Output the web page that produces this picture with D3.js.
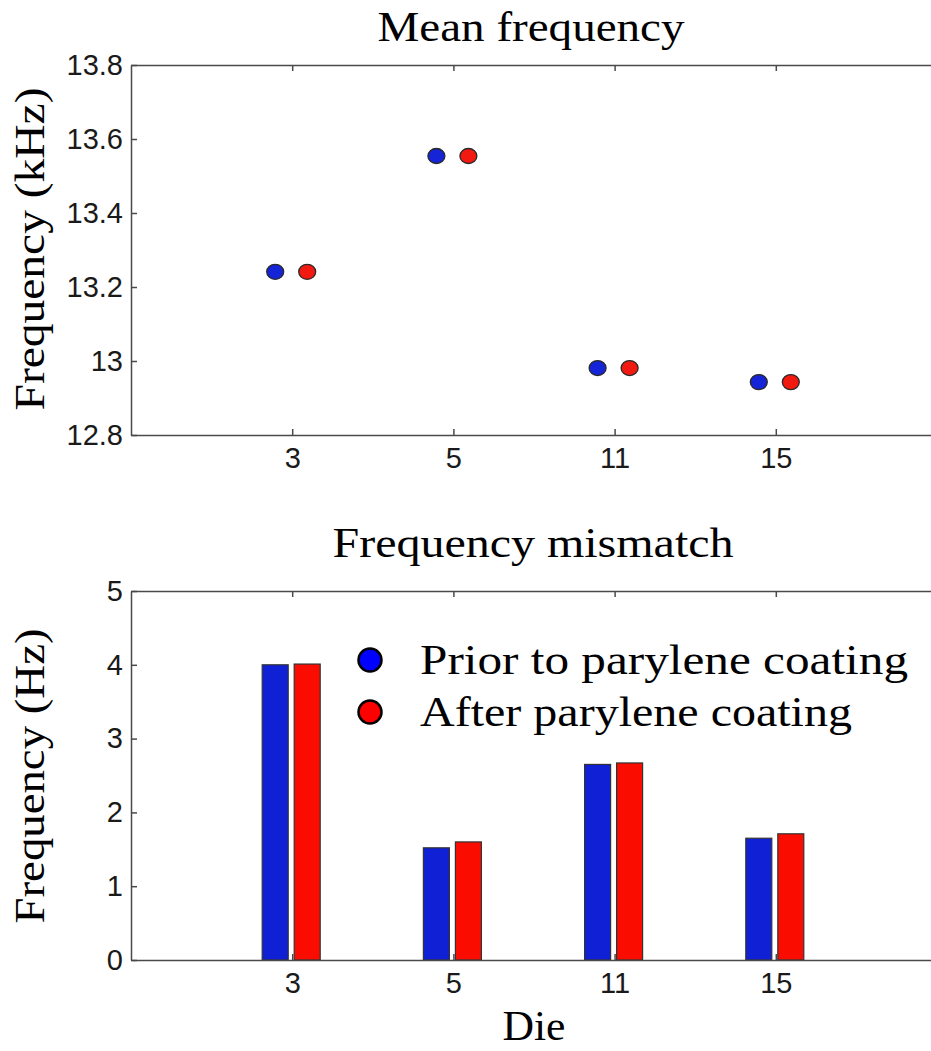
<!DOCTYPE html>
<html>
<head>
<meta charset="utf-8">
<script src="https://cdn.jsdelivr.net/npm/d3@7"></script>
<style>
  html, body { margin: 0; padding: 0; background: #fff; }
  svg { display: block; }
  .tick text { font-family: "Liberation Sans", Arial, sans-serif; font-size: 29px; fill: #1a1a1a; }
  .axis path, .axis line { stroke: #4a4a4a; stroke-width: 1.5; }
  .tex { font-family: "Liberation Serif", "Times New Roman", serif; fill: #000; }
</style>
</head>
<body>
<svg id="chart" width="931" height="1051"></svg>
<script>
'use strict';

// ── Data ─────────────────────────────────────────────────────
const dies          = ['3', '5', '11', '15'];
const meanPrior     = [13.241, 13.554, 12.981, 12.943];   // kHz
const meanAfter     = [13.241, 13.554, 12.981, 12.943];   // kHz
const mismatchPrior = [4.00, 1.52, 2.65, 1.65];           // Hz
const mismatchAfter = [4.01, 1.60, 2.67, 1.71];           // Hz
const meanTicks     = [12.8, 13, 13.2, 13.4, 13.6, 13.8];
const mismatchTicks = [0, 1, 2, 3, 4, 5];
const seriesNames   = ['Prior to parylene coating', 'After parylene coating'];

// ── Layout ───────────────────────────────────────────────────
const X0 = 131, X1 = 937;
const TOP    = { y0: 65,  y1: 435 };
const BOTTOM = { y0: 591, y1: 960 };
const DOT_BLUE = '#1424d6', DOT_RED = '#f21a10';
const BAR_BLUE = '#1020d4', BAR_RED = '#fa0c00';

const svg = d3.select('#chart');

const x = d3.scaleLinear().domain([0, dies.length + 1]).range([X0, X1]);

// ── Axes box helper ──────────────────────────────────────────
function drawBox(y, ticks, fmt, box) {
  const xt = dies.map((d, i) => i + 1);
  const g = svg.append('g').attr('class', 'axis');

  g.append('g').attr('transform', `translate(0,${box.y1})`)
    .call(d3.axisBottom(x).tickValues(xt).tickFormat((d) => dies[d - 1])
      .tickSizeInner(-6).tickSizeOuter(0).tickPadding(12));
  g.append('g').attr('transform', `translate(0,${box.y0})`)
    .call(d3.axisTop(x).tickValues(xt).tickFormat('')
      .tickSizeInner(-6).tickSizeOuter(0));
  g.append('g').attr('transform', `translate(${X0},0)`)
    .call(d3.axisLeft(y).tickValues(ticks).tickFormat(fmt)
      .tickSizeInner(-6).tickSizeOuter(0).tickPadding(8));
  g.append('g').attr('transform', `translate(${X1},0)`)
    .call(d3.axisRight(y).tickValues(ticks).tickFormat('')
      .tickSizeInner(-6).tickSizeOuter(0));
  return g;
}

function texLabel(txt, tx, ty, len, rotate) {
  svg.append('text')
    .attr('class', 'tex')
    .attr('transform', `translate(${tx},${ty})` + (rotate ? ' rotate(-90)' : ''))
    .attr('text-anchor', 'middle')
    .attr('font-size', 42)
    .attr('textLength', len)
    .attr('lengthAdjust', 'spacingAndGlyphs')
    .text(txt);
}

// ── Top: mean frequency ──────────────────────────────────────
const yTop = d3.scaleLinear().domain([12.8, 13.8]).range([TOP.y1, TOP.y0]);
drawBox(yTop, meanTicks, (d) => String(+d.toFixed(1)), TOP);

const dotSeries = [
  { vals: meanPrior, dx: -17, fill: DOT_BLUE },
  { vals: meanAfter, dx: 15,  fill: DOT_RED },
];
dotSeries.forEach((s) => {
  svg.append('g').selectAll('ellipse').data(s.vals).join('ellipse')
    .attr('cx', (d, i) => x(i + 1) + s.dx)
    .attr('cy', (d) => yTop(d))
    .attr('rx', 8.5).attr('ry', 7.5)
    .attr('fill', s.fill)
    .attr('stroke', '#2a2a2a').attr('stroke-width', 1.3);
});

texLabel('Mean frequency', 531, 41, 307, false);
texLabel('Frequency (kHz)', 44, 249, 323, true);

// ── Bottom: frequency mismatch ───────────────────────────────
const yBot = d3.scaleLinear().domain([0, 5]).range([BOTTOM.y1, BOTTOM.y0]);

const BAR_W = 26;
const barSeries = [
  { vals: mismatchPrior, off: -30, fill: BAR_BLUE },
  { vals: mismatchAfter, off: 2,   fill: BAR_RED },
];
barSeries.forEach((s) => {
  svg.append('g').selectAll('rect').data(s.vals).join('rect')
    .attr('x', (d, i) => x(i + 1) + s.off)
    .attr('y', (d) => yBot(d))
    .attr('width', BAR_W)
    .attr('height', (d) => yBot(0) - yBot(d))
    .attr('fill', s.fill)
    .attr('stroke', '#333').attr('stroke-width', 1.2);
});

drawBox(yBot, mismatchTicks, d3.format('d'), BOTTOM);

texLabel('Frequency mismatch', 533, 557, 401, false);
texLabel('Frequency (Hz)', 44, 776, 295, true);
texLabel('Die', 534, 1040, 63, false);

// ── Legend ───────────────────────────────────────────────────
const legend = svg.append('g').attr('transform', 'translate(370,660)');
const legendColors = ['#0000ff', '#ff0000'];
const legendLens = [488, 432];
seriesNames.forEach((name, i) => {
  const row = legend.append('g').attr('transform', `translate(0,${i * 52})`);
  row.append('circle')
    .attr('r', 11.5)
    .attr('fill', legendColors[i])
    .attr('stroke', '#000').attr('stroke-width', 2.5);
  row.append('text')
    .attr('class', 'tex')
    .attr('x', 50).attr('y', 14)
    .attr('font-size', 42)
    .attr('textLength', legendLens[i])
    .attr('lengthAdjust', 'spacingAndGlyphs')
    .text(name);
});
</script>
</body>
</html>
